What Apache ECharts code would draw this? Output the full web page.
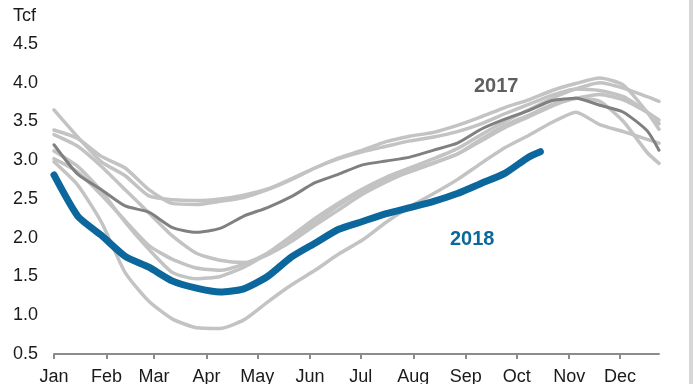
<!DOCTYPE html>
<html>
<head>
<meta charset="utf-8">
<script src="https://cdn.jsdelivr.net/npm/echarts@6/dist/echarts.min.js"></script>
<style>
html,body{margin:0;padding:0;background:#fff;}
#c{width:693px;height:384px;}
</style>
</head>
<body>
<div id="c"></div>
<script>
// Day of year for each sample
const days = [0,14,28,42,56,70,84,98,112,126,140,154,168,182,196,210,224,238,252,266,280,294,308,322,336,350,357];

// Month tick positions (day of year) and labels
const monthStarts = [0,31,59,90,120,151,181,212,243,273,304,334];
const monthLabels = ['Jan','Feb','Mar','Apr','May','Jun','Jul','Aug','Sep','Oct','Nov','Dec'];

// Previous years (gray)
const y2011 = [3.02,2.85,2.55,2.22,1.90,1.72,1.61,1.58,1.66,1.80,2.00,2.20,2.42,2.60,2.74,2.85,2.96,3.08,3.27,3.45,3.58,3.72,3.80,3.85,3.78,3.62,3.52];
const y2012 = [3.39,3.28,3.05,2.90,2.62,2.44,2.43,2.47,2.52,2.62,2.75,2.90,3.02,3.11,3.18,3.25,3.30,3.37,3.47,3.60,3.72,3.84,3.92,3.90,3.82,3.62,3.47];
const y2013 = [3.33,3.18,2.92,2.62,2.32,2.02,1.80,1.71,1.68,1.78,1.95,2.16,2.36,2.56,2.72,2.86,2.97,3.08,3.25,3.42,3.56,3.70,3.80,3.76,3.50,3.10,2.96];
const y2014 = [2.98,2.68,2.20,1.55,1.18,0.95,0.84,0.83,0.94,1.17,1.39,1.58,1.79,1.97,2.20,2.40,2.57,2.75,2.96,3.16,3.32,3.49,3.62,3.46,3.37,3.27,3.22];
const y2015 = [3.12,2.92,2.60,2.20,1.85,1.55,1.47,1.50,1.62,1.80,2.02,2.25,2.45,2.63,2.78,2.90,3.02,3.15,3.33,3.50,3.65,3.80,3.92,4.00,3.93,3.82,3.76];
const y2016 = [3.65,3.30,2.98,2.80,2.54,2.49,2.48,2.50,2.55,2.63,2.76,2.90,3.03,3.13,3.24,3.31,3.36,3.45,3.56,3.68,3.78,3.90,3.99,4.06,3.97,3.62,3.40];

// 2017 (dark gray) and 2018 (blue)
const y2017 = [3.20,2.82,2.62,2.41,2.33,2.13,2.07,2.12,2.28,2.39,2.53,2.71,2.82,2.94,2.99,3.04,3.13,3.22,3.40,3.53,3.64,3.77,3.80,3.71,3.62,3.38,3.13];
const days2018 = [0,14,28,42,56,70,84,98,112,126,140,154,168,182,196,210,224,238,252,266,280,287];
const y2018 = [2.81,2.28,2.03,1.76,1.62,1.44,1.35,1.30,1.34,1.50,1.75,1.93,2.11,2.21,2.31,2.39,2.47,2.57,2.70,2.83,3.04,3.11];

const grayYears = [y2011,y2012,y2013,y2014,y2015,y2016];

function pairs(xs, ys){ return ys.map((v,i)=>[xs[i], v]); }

const FONT = 'Liberation Sans, Arial, sans-serif';
const series = [];
grayYears.forEach(function(arr){
  series.push({type:'line', data:pairs(days,arr), showSymbol:false, smooth:0.2,
    lineStyle:{color:'#c3c3c3', width:3.5, cap:'round', join:'round'}, silent:true, z:2});
});
series.push({type:'line', data:pairs(days,y2017), showSymbol:false, smooth:0.2,
  lineStyle:{color:'#808080', width:3, cap:'round', join:'round'}, z:3});
series.push({type:'line', data:pairs(days2018,y2018), showSymbol:false, smooth:0.2,
  lineStyle:{color:'#0b679c', width:7, cap:'round', join:'round'}, z:4});

const chart = echarts.init(document.getElementById('c'), null, {renderer:'canvas'});
chart.setOption({
  animation:false,
  backgroundColor:'#ffffff',
  grid:{left:54, right:34, top:44, bottom:30, containLabel:false, outerBoundsMode:'none'},
  xAxis:{
    type:'value', min:0, max:357,
    axisLine:{show:true, lineStyle:{color:'#8c8c8c', width:2}},
    axisTick:{show:true, customValues:monthStarts, length:5, lineStyle:{color:'#8c8c8c', width:2}},
    axisLabel:{show:true, customValues:monthStarts, margin:14,
      formatter:function(v){ const i = monthStarts.indexOf(v); return i>=0 ? monthLabels[i] : ''; },
      color:'#1a1a1a', fontSize:18, fontFamily:FONT},
    splitLine:{show:false}
  },
  yAxis:{
    type:'value', min:0.5, max:4.5, interval:0.5,
    axisLine:{show:false}, axisTick:{show:false}, splitLine:{show:false},
    axisLabel:{align:'left', margin:41, color:'#1a1a1a', fontSize:18, fontFamily:FONT,
      formatter:function(v){ return v.toFixed(1); }}
  },
  graphic:[
    {type:'text', left:13, top:7, style:{text:'Tcf', fill:'#1a1a1a', font:'18px "Liberation Sans", Arial, sans-serif'}},
    {type:'text', left:474, top:76, style:{text:'2017', fill:'#5f5f5f', font:'bold 20px "Liberation Sans", Arial, sans-serif'}},
    {type:'text', left:450, top:229, style:{text:'2018', fill:'#0b679c', font:'bold 20px "Liberation Sans", Arial, sans-serif'}},
    {type:'rect', shape:{x:689, y:0, width:4, height:384}, style:{fill:'#d6d6d6'}}
  ],
  series:series
});
</script>
</body>
</html>
